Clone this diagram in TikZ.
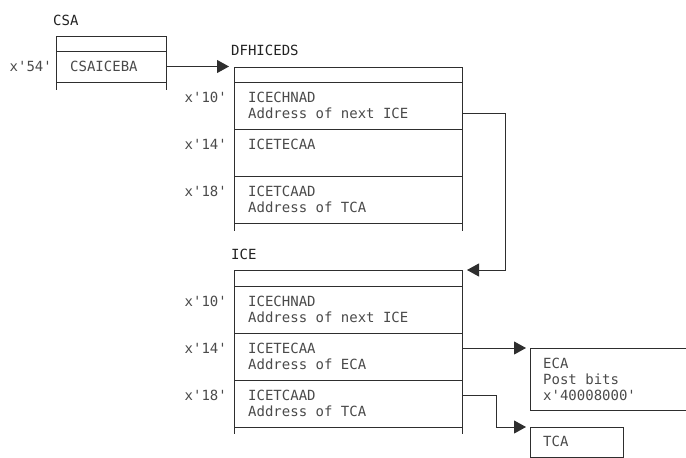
\documentclass[tikz,border=0pt]{standalone}
\usepackage{fontspec}
\setmonofont{DejaVu Sans Mono}
\usetikzlibrary{arrows.meta,calc}
\definecolor{ln}{HTML}{2E2E2E}
\definecolor{tx}{HTML}{4A4A4A}
\definecolor{tt}{HTML}{222222}
\tikzset{
 every node/.style={font=\ttfamily\fontsize{14}{16}\selectfont},
 cell/.style={draw=ln, line width=1pt, rectangle, anchor=north west, minimum width=228pt, inner sep=0pt, outer sep=0pt},
 txt/.style={anchor=base west, inner sep=0pt, text=tx},
 off/.style={anchor=base east, inner sep=0pt, text=tx},
 ttl/.style={anchor=base west, inner sep=0pt, text=tt},
 arr/.style={draw=ln, line width=1pt, -{Triangle[length=12pt,width=13pt]}},
 wire/.style={draw=ln, line width=1pt}
}
\begin{document}
\begin{tikzpicture}[x=1pt,y=-1pt]
\useasboundingbox (0,0) rectangle (686,458);
% CSA
\node[ttl] (lcsa) at (53,25) {CSA};
\node[cell, minimum width=110pt, minimum height=15pt] (ch) at (56,36) {};
\node[cell, minimum width=110pt, minimum height=31pt] (c1) at (56,51) {};
\draw[wire] (c1.south west) -- ++(0,8);
\draw[wire] (c1.south east) -- ++(0,8);
\node[off] (o54) at (52,71) {x'54'};
\node[txt] (tcsa) at (70,71) {CSAICEBA};
% DFHICEDS
\node[ttl] (ldf) at (231,55) {DFHICEDS};
\node[cell, minimum height=15pt] (dh) at (234,67) {};
\node[cell, minimum height=47pt] (d1) at (234,82) {};
\node[cell, minimum height=47pt] (d2) at (234,129) {};
\node[cell, minimum height=47pt] (d3) at (234,176) {};
\draw[wire] (d3.south west) -- ++(0,8);
\draw[wire] (d3.south east) -- ++(0,8);
\node[off] (do1) at (227,102) {x'10'};
\node[off] (do2) at (227,149) {x'14'};
\node[off] (do3) at (227,196) {x'18'};
\node[txt] (dt1a) at (248,102) {ICECHNAD};
\node[txt] (dt1b) at (248,118) {Address of next ICE};
\node[txt] (dt2a) at (248,149) {ICETECAA};
\node[txt] (dt3a) at (248,196) {ICETCAAD};
\node[txt] (dt3b) at (248,212) {Address of TCA};
% ICE
\node[ttl] (lice) at (231,259) {ICE};
\node[cell, minimum height=16pt] (ih) at (234,270) {};
\node[cell, minimum height=47pt] (i1) at (234,286) {};
\node[cell, minimum height=47pt] (i2) at (234,333) {};
\node[cell, minimum height=47pt] (i3) at (234,380) {};
\draw[wire] (i3.south west) -- ++(0,7);
\draw[wire] (i3.south east) -- ++(0,7);
\node[off] (io1) at (227,306) {x'10'};
\node[off] (io2) at (227,353) {x'14'};
\node[off] (io3) at (227,400) {x'18'};
\node[txt] (it1a) at (248,306) {ICECHNAD};
\node[txt] (it1b) at (248,322) {Address of next ICE};
\node[txt] (it2a) at (248,353) {ICETECAA};
\node[txt] (it2b) at (248,369) {Address of ECA};
\node[txt] (it3a) at (248,400) {ICETCAAD};
\node[txt] (it3b) at (248,416) {Address of TCA};
% ECA
\node[anchor=north west, minimum width=160pt, minimum height=62pt, inner sep=0pt, outer sep=0pt] (eca) at (530,348) {};
\draw[wire] (eca.north east) -- (eca.north west) -- (eca.south west) -- (eca.south east);
\node[txt] (et1) at (543,368) {ECA};
\node[txt] (et2) at (543,384) {Post bits};
\node[txt] (et3) at (543,400) {x'40008000'};
% TCA
\node[cell, minimum width=93pt, minimum height=30pt] (tca) at (530,427) {};
\node[txt] (tt1) at (543,446) {TCA};
% connectors
\draw[arr] (c1.east) -- ($(c1.east -| dh.west)+(-5,0)$);
\draw[arr] ([yshift=-8pt]d1.east) -- ++(43,0) |- ([xshift=5pt]ih.north east);
\draw[arr] (eca.north west -| i2.east) -- ([xshift=-4pt]eca.north west);
\draw[arr] ([yshift=8pt]i3.east) -- ++(34,0) |- ([xshift=-4pt]tca.north west);
\end{tikzpicture}
\end{document}
